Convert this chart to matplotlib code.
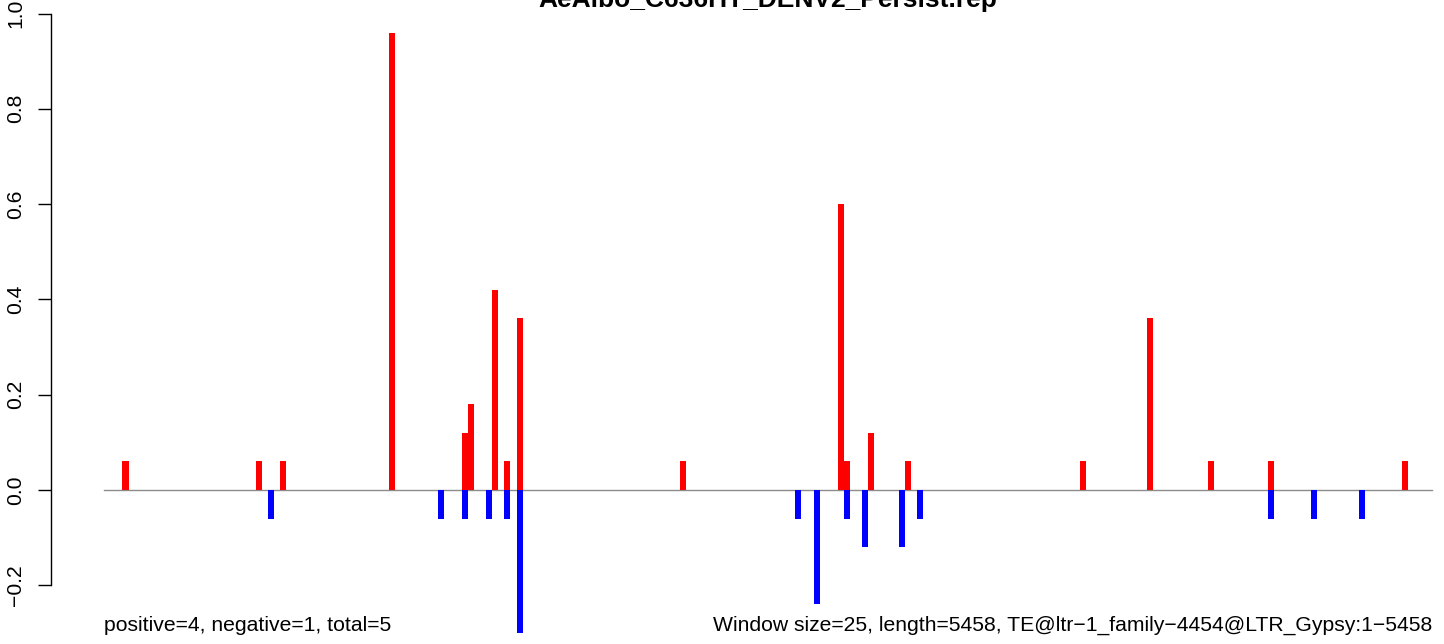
import numpy as np
import matplotlib
matplotlib.use("Agg")
import matplotlib.pyplot as plt

plt.rcParams['font.family'] = ['Liberation Sans', 'DejaVu Sans']

# окна по 25 bp
n_windows = 219
pos_idx = [3, 25, 29, 47, 59, 60, 64, 66, 68, 95, 121, 122, 126, 132, 161, 172, 182, 192, 214]
pos_val = [0.06, 0.06, 0.06, 0.96, 0.12, 0.18, 0.42, 0.06, 0.36, 0.06, 0.60, 0.06, 0.12,
           0.06, 0.06, 0.36, 0.06, 0.06, 0.06]
neg_idx = [27, 55, 59, 63, 66, 68, 114, 117, 122, 125, 131, 134, 192, 199, 207]
neg_val = [-0.06, -0.06, -0.06, -0.06, -0.06, -0.30, -0.06, -0.24, -0.06, -0.12, -0.12,
           -0.06, -0.06, -0.06, -0.06]
yticks = [-0.2, 0.0, 0.2, 0.4, 0.6, 0.8, 1.0]

title = "AeAlbo_C636HT_DENV2_Persist.rep"
left_note = "positive=4, negative=1, total=5"
right_note = "Window size=25, length=5458, TE@ltr\u22121_family\u22124454@LTR_Gypsy:1\u22125458"

W, H = 1444, 644
fig = plt.figure(figsize=(W / 100, H / 100), dpi=100)
ax = fig.add_axes([50.7 / W, 0, 1 - 50.7 / W, 1])

# пиксельная сетка: x=0 -> 104.3px, шаг окна 6.0626px; y=0 -> 490px, 476.5px на единицу
ax.set_xlim((50.7 - 104.3) / 6.0626, (W - 104.3) / 6.0626)
ax.set_ylim((490 - H) / 476.5, 490 / 476.5)

ax.plot([0, n_windows], [0, 0], color='#8c8c8c', lw=1.0, zorder=1)
ax.bar(pos_idx, pos_val, width=1.0, align='edge', color='#ff0000', linewidth=0, zorder=2)
ax.bar(neg_idx, neg_val, width=1.0, align='edge', color='#0000ff', linewidth=0, zorder=2)

for s in ['top', 'right', 'bottom']:
    ax.spines[s].set_visible(False)
ax.spines['left'].set_bounds(-0.2, 1.0)
ax.spines['left'].set_linewidth(1.0)
ax.set_xticks([])
ax.set_yticks(yticks)
ax.set_yticklabels([f"{v:.1f}".replace('-', '\u2212') for v in yticks],
                   rotation=90, va='center', fontsize=15.25)
ax.tick_params(axis='y', length=9.4, width=1.0, pad=9)

ax.text(0, -0.296, left_note, ha='left', va='baseline', fontsize=15.25)
ax.text(n_windows, -0.296, right_note, ha='right', va='baseline', fontsize=15.25)

fig.text(767.5 / W, 1 - 7 / H, title, ha='center', va='baseline',
         fontsize=19, fontweight='bold')

fig.savefig("out.png", dpi=100)
